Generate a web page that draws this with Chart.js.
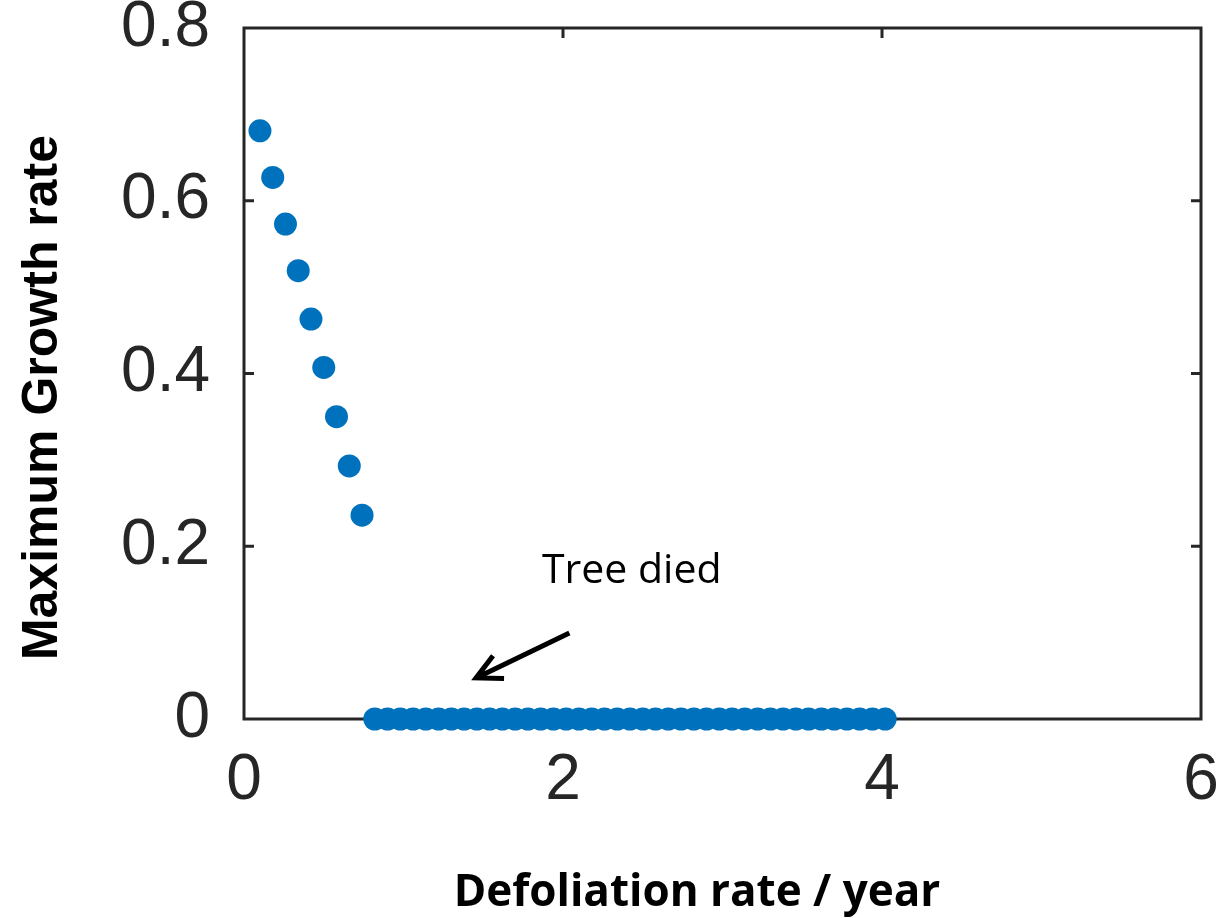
<!DOCTYPE html>
<html>
<head>
<meta charset="utf-8">
<title>Maximum growth rate vs defoliation rate</title>
<script src="https://cdn.jsdelivr.net/npm/chart.js@4/dist/chart.umd.min.js"></script>
<style>
  html, body { margin: 0; padding: 0; background: #fff; }
  #wrap { width: 1226px; height: 918px; }
</style>
</head>
<body>
<div id="wrap"><canvas id="growth-chart" width="1226" height="918"></canvas></div>
<script>
// Defoliation rate (per year) for each simulated run
const defoliation = [
  0.10, 0.18, 0.26, 0.34, 0.42, 0.50, 0.58, 0.66, 0.74,
  0.82, 0.90, 0.98, 1.06, 1.14, 1.22, 1.30, 1.38, 1.46, 1.54,
  1.62, 1.70, 1.78, 1.86, 1.94, 2.02, 2.10, 2.18, 2.26, 2.34,
  2.42, 2.50, 2.58, 2.66, 2.74, 2.82, 2.90, 2.98, 3.06, 3.14,
  3.22, 3.30, 3.38, 3.46, 3.54, 3.62, 3.70, 3.78, 3.86, 3.94,
  4.02
];
// Maximum growth rate reached in each run (0 = tree died)
const growth = [
  0.681, 0.627, 0.573, 0.519, 0.463, 0.407, 0.350, 0.293, 0.236,
  0, 0, 0, 0, 0, 0, 0, 0, 0, 0,
  0, 0, 0, 0, 0, 0, 0, 0, 0, 0,
  0, 0, 0, 0, 0, 0, 0, 0, 0, 0,
  0, 0, 0, 0, 0, 0, 0, 0, 0, 0,
  0
];
const xTicks = [0, 2, 4, 6];
const xTickLabels = ['0', '2', '4', '6'];
const yTicks = [0, 0.2, 0.4, 0.6, 0.8];
const yTickLabels = ['0', '0.2', '0.4', '0.6', '0.8'];

const xTitle = 'Defoliation rate / year';
const yTitle = 'Maximum Growth rate';
const noteText = 'Tree died';

const AXIS = '#262626';
const DOT = '#0072BD';
const TICK_LEN = 10;
const SANS = "'Liberation Sans', Arial, Helvetica, sans-serif";
const NOTE_FONT = "'Open Sans', 'Noto Sans', sans-serif";

// box around the plot with inward tick marks, drawn under the dots
const framePlugin = {
  id: 'frame',
  beforeDatasetsDraw(chart) {
    const { ctx, chartArea: a, scales: { x, y } } = chart;
    ctx.save();
    ctx.strokeStyle = AXIS;
    ctx.lineWidth = 3;
    ctx.strokeRect(a.left, a.top, a.right - a.left, a.bottom - a.top);
    ctx.beginPath();
    x.ticks.forEach(t => {
      const px = x.getPixelForValue(t.value);
      if (px <= a.left + 1 || px >= a.right - 1) return;
      ctx.moveTo(px, a.bottom); ctx.lineTo(px, a.bottom - TICK_LEN);
      ctx.moveTo(px, a.top); ctx.lineTo(px, a.top + TICK_LEN);
    });
    y.ticks.forEach(t => {
      const py = y.getPixelForValue(t.value);
      if (py <= a.top + 1 || py >= a.bottom - 1) return;
      ctx.moveTo(a.left, py); ctx.lineTo(a.left + TICK_LEN, py);
      ctx.moveTo(a.right, py); ctx.lineTo(a.right - TICK_LEN, py);
    });
    ctx.stroke();
    ctx.restore();
  },
  afterDatasetsDraw(chart) {
    const { ctx, chartArea: a, scales: { x, y } } = chart;
    ctx.save();

    // axis titles
    ctx.fillStyle = '#000';
    ctx.font = `bold 44px ${NOTE_FONT}`;
    ctx.textAlign = 'center';
    ctx.textBaseline = 'alphabetic';
    ctx.fillText(xTitle, x.getPixelForValue(2.84), 906);

    ctx.font = `bold 50px ${SANS}`;
    ctx.translate(57, (a.top + a.bottom) / 2 + 24);
    ctx.rotate(-Math.PI / 2);
    ctx.fillText(yTitle, 0, 0);
    ctx.setTransform(1, 0, 0, 1, 0, 0);

    // "Tree died" note with arrow pointing at the zero row
    ctx.font = `41px ${NOTE_FONT}`;
    ctx.textAlign = 'left';
    ctx.fillText(noteText, x.getPixelForValue(1.868), y.getPixelForValue(0.157));

    const x0 = x.getPixelForValue(2.04), y0 = y.getPixelForValue(0.0996);
    const x1 = x.getPixelForValue(1.455), y1 = y.getPixelForValue(0.0475);
    const ang = Math.atan2(y1 - y0, x1 - x0);
    const head = 28, spread = Math.PI * 27 / 180;
    ctx.strokeStyle = '#000';
    ctx.lineWidth = 5;
    ctx.lineCap = 'butt';
    ctx.lineJoin = 'miter';
    ctx.beginPath();
    ctx.moveTo(x0, y0);
    ctx.lineTo(x1, y1);
    ctx.moveTo(x1 - head * Math.cos(ang - spread), y1 - head * Math.sin(ang - spread));
    ctx.lineTo(x1, y1);
    ctx.lineTo(x1 - head * Math.cos(ang + spread), y1 - head * Math.sin(ang + spread));
    ctx.stroke();
    ctx.restore();
  }
};

new Chart(document.getElementById('growth-chart'), {
  type: 'scatter',
  data: {
    datasets: [{
      data: defoliation.map((d, i) => ({ x: d, y: growth[i] })),
      backgroundColor: DOT,
      borderWidth: 0,
      pointRadius: 11.5,
      pointHoverRadius: 11.5,
      clip: false
    }]
  },
  options: {
    responsive: false,
    animation: false,
    devicePixelRatio: 1,
    layout: { padding: { top: 28, right: 25, bottom: 0, left: 0 } },
    plugins: { legend: { display: false }, tooltip: { enabled: false } },
    scales: {
      x: {
        type: 'linear',
        min: 0, max: 6,
        afterBuildTicks: s => { s.ticks = xTicks.map(v => ({ value: v })); },
        afterFit: s => { s.height = 918 - 719; s.paddingLeft = 0; s.paddingRight = 0; },
        grid: { display: false, drawTicks: false },
        border: { display: false },
        ticks: {
          padding: 24,
          color: AXIS,
          maxRotation: 0,
          font: { family: SANS, size: 64 },
          callback: (v, i) => xTickLabels[i]
        }
      },
      y: {
        type: 'linear',
        min: 0, max: 0.8,
        afterBuildTicks: s => { s.ticks = yTicks.map(v => ({ value: v })); },
        afterFit: s => { s.width = 244; s.paddingTop = 0; s.paddingBottom = 0; },
        grid: { display: false, drawTicks: false },
        border: { display: false },
        ticks: {
          padding: 34,
          color: AXIS,
          font: { family: SANS, size: 64 },
          callback: (v, i) => yTickLabels[i]
        }
      }
    }
  },
  plugins: [framePlugin]
});
</script>
</body>
</html>
